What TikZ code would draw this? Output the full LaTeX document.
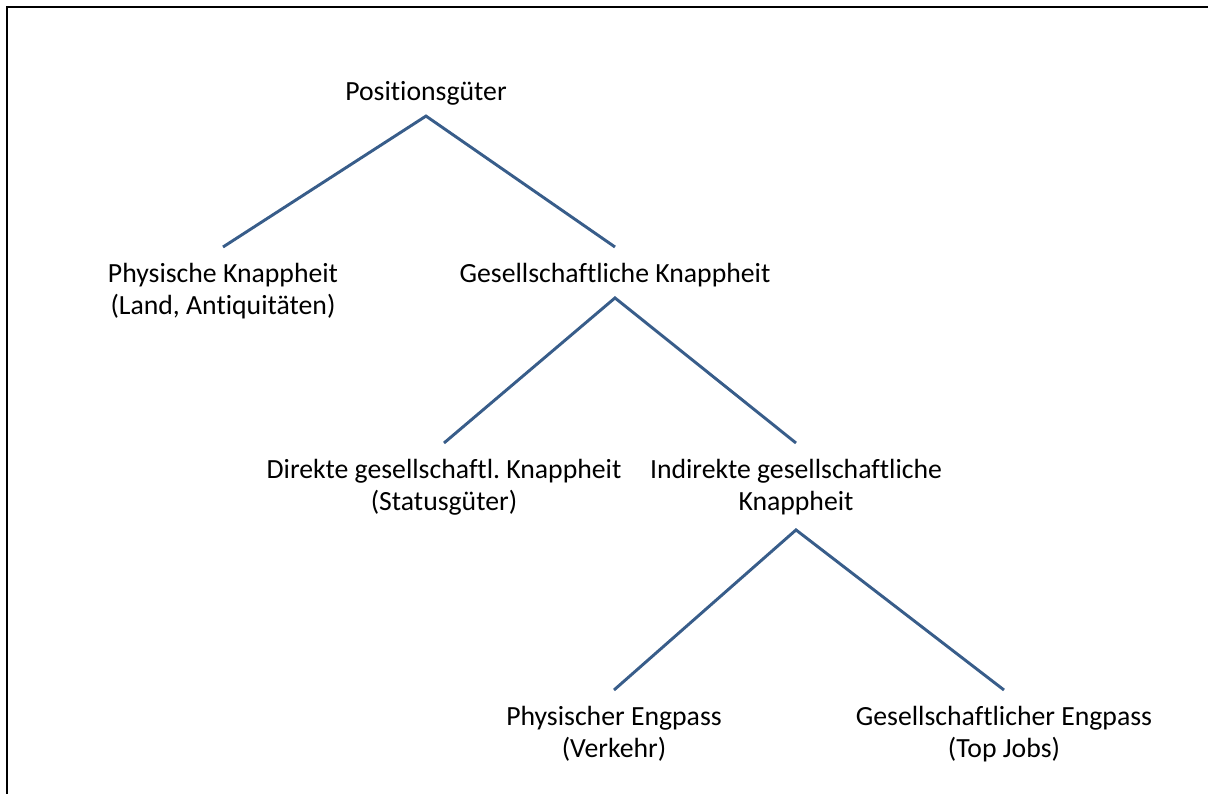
\documentclass[tikz,border=0pt]{standalone}
\usepackage{fontspec}
\setmainfont{Carlito}[Ligatures={NoCommon}]
\frenchspacing
\usetikzlibrary{positioning,calc}
\definecolor{branchblue}{RGB}{56,93,138}
\tikzset{
  % Define style for the text terms
  term/.style={
    inner sep=0pt,
    anchor=north,
    align=center,
    font=\fontsize{20.8pt}{24pt}\selectfont},
  % Define branch style
  branch/.style={
    draw=branchblue,
    line width=2.2pt,
    line join=miter},
  % frame lines
  rim/.style={draw=black, line width=2.2pt},
}
\def\fork#1#2#3#4{ % #1 parent, #2 left child, #3 right child, #4 gap below parent
\draw[branch] ([yshift=12pt]#2.north) -- ([yshift=-#4]#1.south) -- ([yshift=12pt]#3.north);
}

\begin{document}
\begin{tikzpicture}[x=0.75pt, y=-0.75pt]
  \useasboundingbox (0,0) rectangle (1208,794);
  % frame
  \coordinate (rimtop) at (1208,7);
  \coordinate (rimcorner) at (7,7);
  \coordinate (rimbottom) at (7,794);
  \draw[rim] (rimtop) -- (rimcorner) -- (rimbottom);
  % nodes
  \node[term] (pos) at (426,81) {Positionsgüter};
  \node[term] (physk) at (223,263) {Physische Knappheit\\(Land, Antiquitäten)};
  \node[term] (gesk) at (615,263) {Gesellschaftliche Knappheit};
  \node[term] (direkt) at (444,459) {Direkte gesellschaftl. Knappheit\\(Statusgüter)};
  \node[term] (indirekt) at (796,459) {Indirekte gesellschaftliche\\Knappheit};
  \node[term] (physeng) at (614,706) {Physischer Engpass\\(Verkehr)};
  \node[term] (geseng) at (1004,706) {Gesellschaftlicher Engpass\\(Top Jobs)};
  % branches
  \fork{pos}{physk}{gesk}{8pt}
  \fork{gesk}{direkt}{indirekt}{8pt}
  \fork{indirekt}{physeng}{geseng}{11pt}
\end{tikzpicture}
\end{document}
